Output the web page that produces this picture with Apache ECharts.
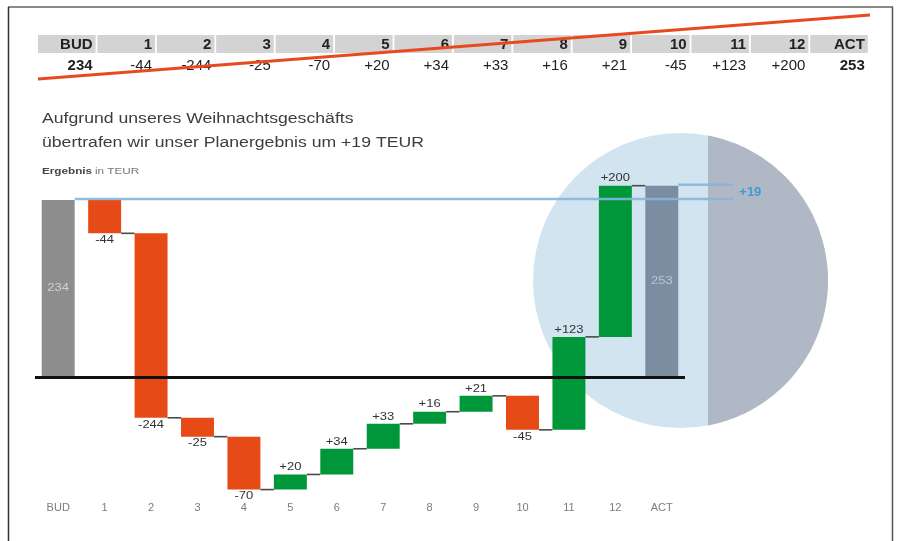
<!DOCTYPE html>
<html><head><meta charset="utf-8">
<script src="https://cdn.jsdelivr.net/npm/echarts@6/dist/echarts.min.js"></script>
<style>html,body{margin:0;padding:0;background:#fff}#c{width:897px;height:541px}</style>
</head><body><div id="c"></div>
<script>
// ---- data ----
const categories = ['BUD','1','2','3','4','5','6','7','8','9','10','11','12','ACT'];
const budget = 234;
const deltas = [-44,-244,-25,-70,20,34,33,16,21,-45,123,200];
const actual = 253;
const titleLines = ['Aufgrund unseres Weihnachtsgeschäfts','übertrafen wir unser Planergebnis um +19 TEUR'];
const subtitleBold = 'Ergebnis';
const subtitleRest = 'in TEUR';

// ---- derived ----
const fmt = d => d > 0 ? '+' + d : String(d);
const bars = [];
let cum = budget;
bars.push([0, 0, budget, budget, 0]);
deltas.forEach((d, k) => { bars.push([k + 1, cum, cum + d, d, d >= 0 ? 1 : 2]); cum += d; });
bars.push([categories.length - 1, 0, actual, actual, 0]);
const tableValues = [String(budget)].concat(deltas.map(fmt), [String(actual)]);

const FONT = '"Liberation Sans", Arial, sans-serif';
const C_POS = '#00973b', C_NEG = '#e64a16', C_BUD = '#8d8d8d', C_ACT = '#7b8da0';
const BLUE = '#86b5dd';
const SX = 1.3; // horizontal stretch of the chart texts

function renderBar(params, api) {
  const i = api.value(0), s = api.value(1), e = api.value(2), d = api.value(3), t = api.value(4);
  const pitch = api.size([1, 0])[0];
  const bw = pitch * 0.71;
  const cx = api.coord([i, 0])[0];
  const ys = api.coord([i, s])[1], ye = api.coord([i, e])[1];
  const top = Math.min(ys, ye), h = Math.abs(ys - ye);
  const children = [];
  const fill = t === 0 ? (i === 0 ? C_BUD : C_ACT) : (t === 1 ? C_POS : C_NEG);
  children.push({type: 'rect', shape: {x: cx - bw / 2, y: top, width: bw, height: h}, style: {fill: fill}});
  if (t === 0) {
    children.push({type: 'text', x: cx, y: (ys + ye) / 2, scaleX: SX, style: {text: String(d), fill: i === 0 ? '#d0d0d0' : '#b8c5d3', fontSize: 10, fontFamily: FONT, align: 'center', verticalAlign: 'middle'}});
  } else {
    children.push({type: 'text', x: cx, y: d > 0 ? ye - 2 : ye + 2, scaleX: SX, style: {text: fmt(d), fill: '#333', fontSize: 10, fontFamily: FONT, align: 'center', verticalAlign: d > 0 ? 'bottom' : 'top'}});
    children.push({type: 'line', shape: {x1: cx + bw / 2, y1: ye, x2: cx + pitch - bw / 2, y2: ye}, style: {stroke: '#4a4a4a', lineWidth: 1.6}});
  }
  return {type: 'group', children: children};
}

function renderRef(params, api) {
  const i = api.value(0), v = api.value(1);
  const pitch = api.size([1, 0])[0];
  const bw = pitch * 0.71;
  const last = categories.length - 1;
  const endX = api.coord([last, 0])[0] + pitch * 1.54;
  const x0 = api.coord([i, v])[0] + bw / 2;
  const y = api.coord([i, v])[1];
  const children = [{type: 'line', shape: {x1: x0, y1: y - 1, x2: endX, y2: y - 1}, style: {stroke: BLUE, lineWidth: 2.5, opacity: 0.9}}];
  if (i === last) {
    const yb = api.coord([0, budget])[1] - 1;
    children.push({type: 'text', x: endX + 6, y: (y + yb) / 2, style: {text: fmt(actual - budget), fill: '#3a9dd3', fontSize: 13, fontWeight: 'bold', fontFamily: FONT, align: 'left', verticalAlign: 'middle'}});
  }
  return {type: 'group', children: children};
}

// ---- decorations ----
const graphics = [];
// frame
graphics.push({type: 'line', shape: {x1: 8, y1: 7, x2: 893, y2: 7}, style: {stroke: '#8a8a8a', lineWidth: 2}});
graphics.push({type: 'line', shape: {x1: 8.5, y1: 7, x2: 8.5, y2: 541}, style: {stroke: '#333', lineWidth: 1.5}});
graphics.push({type: 'line', shape: {x1: 892.5, y1: 7, x2: 892.5, y2: 541}, style: {stroke: '#555', lineWidth: 1.5}});
// table
const tblLeft = 38, tblPitch = 59.4, cellW = 57.6;
categories.forEach((c, k) => {
  const x = tblLeft + k * tblPitch;
  graphics.push({type: 'rect', shape: {x: x, y: 35, width: cellW, height: 18}, style: {fill: '#d3d3d3'}});
  graphics.push({type: 'text', x: x + cellW - 3, y: 45, style: {text: c, fill: '#222', fontSize: 15, fontWeight: 'bold', fontFamily: FONT, align: 'right', verticalAlign: 'middle'}});
  const bold = (k === 0 || k === categories.length - 1);
  graphics.push({type: 'text', x: x + cellW - 3, y: 65.5, style: {text: tableValues[k], fill: '#222', fontSize: 15, fontWeight: bold ? 'bold' : 'normal', fontFamily: FONT, align: 'right', verticalAlign: 'middle'}});
});
graphics.push({type: 'line', z: 10, shape: {x1: 38, y1: 79, x2: 870, y2: 15}, style: {stroke: '#e8491d', lineWidth: 3}});
// title
titleLines.forEach((t, k) => {
  graphics.push({type: 'text', x: 42, y: 119 + k * 24.5, scaleX: 1.26, style: {text: t, fill: '#3d3d3d', fontSize: 14, fontFamily: FONT, verticalAlign: 'middle'}});
});
graphics.push({type: 'text', x: 42, y: 172, scaleX: 1.3, style: {text: subtitleBold, fill: '#444', fontSize: 9, fontWeight: 'bold', fontFamily: FONT, verticalAlign: 'middle'}});
graphics.push({type: 'text', x: 95, y: 172, scaleX: 1.3, style: {text: subtitleRest, fill: '#777', fontSize: 9, fontFamily: FONT, verticalAlign: 'middle'}});
// highlight circle
const ccx = 680.5, ccy = 280.5, cr = 147.5, splitX = 708;
graphics.push({type: 'circle', z: 0, shape: {cx: ccx, cy: ccy, r: cr}, style: {fill: '#d3e4f1'}});
const th = Math.acos((splitX - ccx) / cr);
const pts = [];
for (let a = -th; a <= th + 1e-9; a += th / 60) pts.push([ccx + cr * Math.cos(a), ccy + cr * Math.sin(a)]);
graphics.push({type: 'polygon', z: 0, shape: {points: pts}, style: {fill: '#b1b8c5'}});

const chart = echarts.init(document.getElementById('c'));
chart.setOption({
  animation: false,
  backgroundColor: '#fff',
  graphic: {elements: graphics},
  grid: {left: 35, right: 212, top: 180.4, height: 317.5},
  xAxis: {type: 'category', data: categories, axisLine: {show: false}, axisTick: {show: false},
    axisLabel: {color: '#7c7c7c', fontSize: 11, fontFamily: FONT, margin: 5}, splitLine: {show: false}},
  yAxis: {type: 'value', min: -160, max: 260, show: false, splitLine: {show: false}},
  series: [
    {type: 'custom', z: 3, renderItem: renderBar, encode: {x: 0, y: [1, 2]}, data: bars},
    {type: 'custom', z: 5, renderItem: renderRef, encode: {x: 0, y: 1},
      data: [[0, budget], [categories.length - 1, actual]],
      markLine: {silent: true, symbol: 'none', label: {show: false},
        lineStyle: {color: '#111', width: 3, type: 'solid'}, data: [{yAxis: 0}]}}
  ]
});
</script></body></html>
